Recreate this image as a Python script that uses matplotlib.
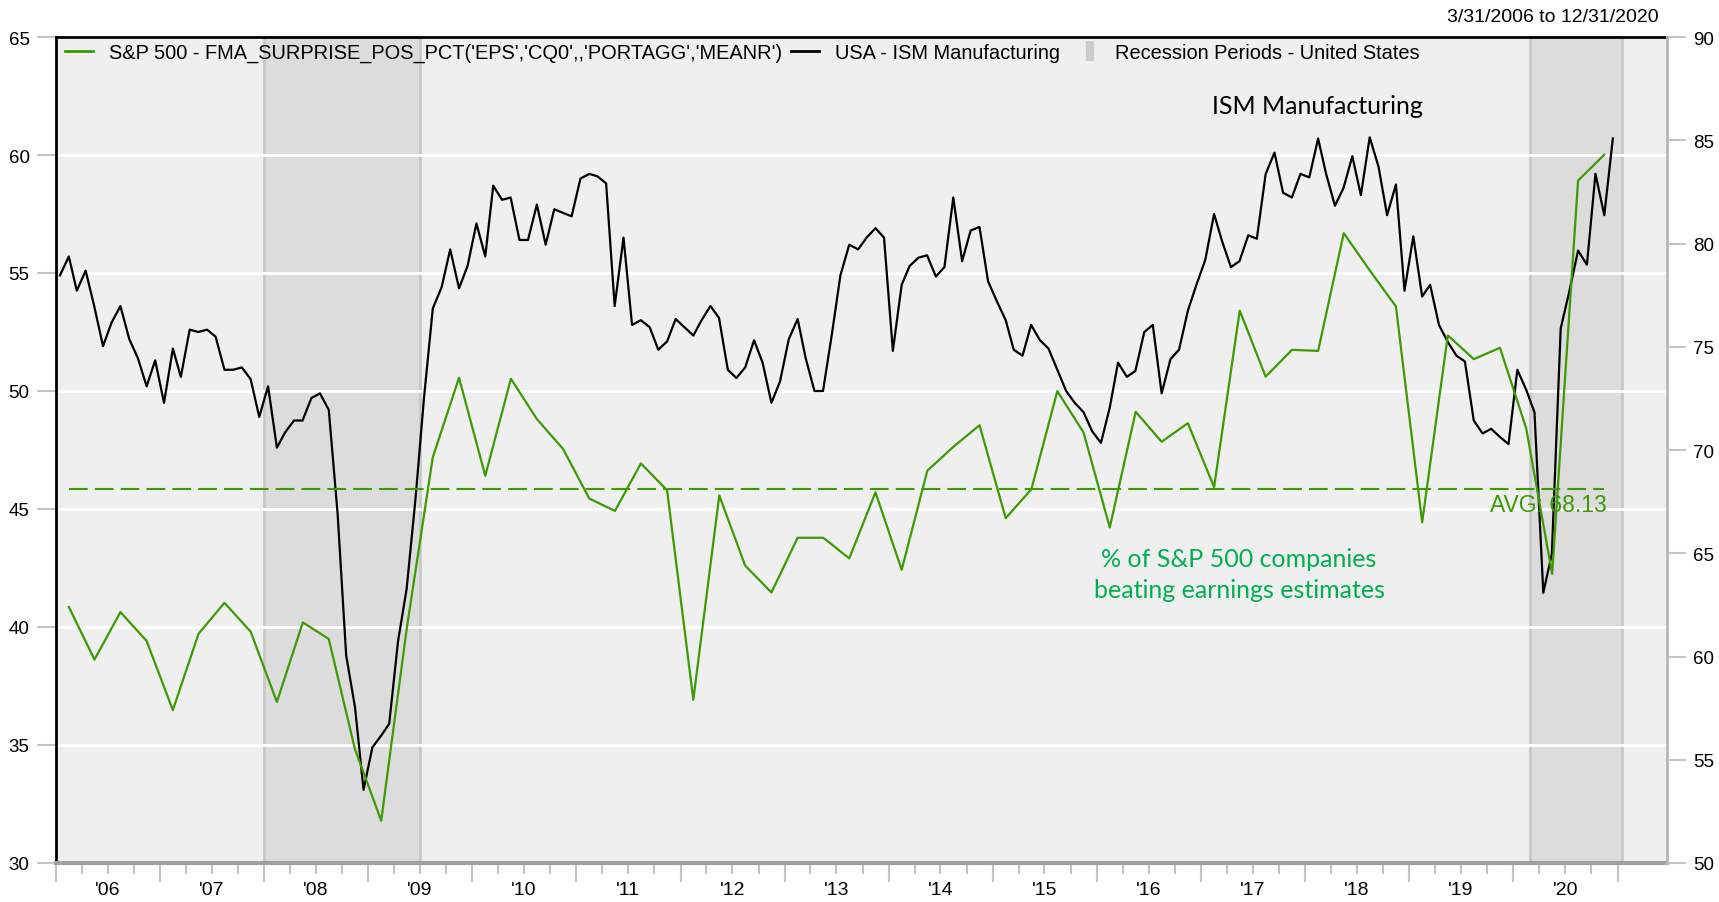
import pandas as pd
import matplotlib
matplotlib.use("Agg")
import matplotlib.pyplot as plt
import matplotlib.dates as mdates
from matplotlib.lines import Line2D
from matplotlib.ticker import FixedLocator, FuncFormatter, NullFormatter

# ISM Manufacturing, monthly (left axis)
ism_2006 = [54.9, 55.7, 54.25, 55.1, 53.6, 51.9, 52.9, 53.6, 52.2, 51.4, 50.2, 51.3]
ism_2007 = [49.5, 51.8, 50.6, 52.6, 52.5, 52.6, 52.3, 50.9, 50.9, 51.0, 50.5, 48.9]
ism_2008 = [50.2, 47.6, 48.25, 48.75, 48.75, 49.7, 49.9, 49.2, 44.8, 38.8, 36.6, 33.1]
ism_2009 = [34.9, 35.4, 35.9, 39.4, 41.6, 45.4, 49.7, 53.5, 54.4, 56.0, 54.35, 55.3]
ism_2010 = [57.1, 55.7, 58.7, 58.1, 58.2, 56.4, 56.4, 57.9, 56.2, 57.7, 57.55, 57.4]
ism_2011 = [59.0, 59.2, 59.1, 58.8, 53.6, 56.5, 52.8, 53.0, 52.7, 51.75, 52.1, 53.05]
ism_2012 = [52.7, 52.35, 53.0, 53.6, 53.1, 50.9, 50.55, 51.0, 52.15, 51.2, 49.5, 50.4]
ism_2013 = [52.2, 53.05, 51.4, 50.0, 50.0, 52.4, 54.9, 56.2, 56.0, 56.5, 56.9, 56.5]
ism_2014 = [51.7, 54.5, 55.3, 55.65, 55.75, 54.85, 55.25, 58.2, 55.5, 56.8, 56.95, 54.65]
ism_2015 = [53.8, 53.0, 51.75, 51.5, 52.8, 52.15, 51.8, 50.9, 50.0, 49.5, 49.1, 48.3]
ism_2016 = [47.8, 49.3, 51.2, 50.6, 50.85, 52.5, 52.8, 49.9, 51.35, 51.75, 53.4, 54.5]
ism_2017 = [55.55, 57.5, 56.35, 55.25, 55.5, 56.6, 56.45, 59.2, 60.1, 58.4, 58.2, 59.2]
ism_2018 = [59.05, 60.7, 59.2, 57.85, 58.6, 59.95, 58.3, 60.75, 59.5, 57.45, 58.75, 54.25]
ism_2019 = [56.55, 54.0, 54.5, 52.8, 52.1, 51.5, 51.25, 48.75, 48.2, 48.4, 48.05, 47.75]
ism_2020 = [50.9, 50.05, 49.1, 41.45, 43.1, 52.65, 54.2, 55.95, 55.35, 59.2, 57.45, 60.7]
ism = (ism_2006 + ism_2007 + ism_2008 + ism_2009 + ism_2010 + ism_2011 + ism_2012 + ism_2013
       + ism_2014 + ism_2015 + ism_2016 + ism_2017 + ism_2018 + ism_2019 + ism_2020)

# % of S&P 500 companies beating EPS estimates, quarterly (right axis)
beat_pct = [62.4, 59.85, 62.15, 60.75,
            57.4, 61.1, 62.6, 61.2,
            57.8, 61.65, 60.85, 55.5,
            52.05, 61.4, 69.65, 73.5,
            68.75, 73.45, 71.5, 70.05,
            67.65, 67.05, 69.35, 68.05,
            57.9, 67.8, 64.4, 63.1,
            65.75, 65.75, 64.75, 67.95,
            64.2, 69.0, 70.15, 71.2,
            66.7, 68.1, 72.85, 70.85,
            66.25, 71.85, 70.4, 71.3,
            68.2, 76.75, 73.55, 74.85,
            74.8, 80.5, 78.7, 76.95,
            66.5, 75.55, 74.4, 74.95,
            71.05, 64.0, 83.05, 84.3]
beat_avg = 68.13

recessions = [("2007-12-31", "2009-06-30"), ("2020-02-29", "2021-01-15")]
years = list(range(2006, 2022))

ism_dates = pd.date_range("2006-01-01", periods=len(ism), freq="MS") + pd.Timedelta(days=14)
beat_dates = pd.date_range("2006-01-01", periods=len(beat_pct), freq="QS") + pd.Timedelta(days=45)

green = "#3c9a04"
txt_green = "#00b050"
plt.rcParams["font.family"] = ["Liberation Sans", "DejaVu Sans"]

fig = plt.figure(figsize=(17.19, 9.03), dpi=100)
ax = fig.add_axes([56 / 1719, 39 / 903, 1611 / 1719, 826 / 903])
ax.set_facecolor("#efefef")
ax2 = ax.twinx()

for start, end in recessions:
    ax.axvspan(pd.Timestamp(start), pd.Timestamp(end), facecolor="#dcdcdc",
               edgecolor="#c8c8c8", lw=2, zorder=0.2)

ax.set_axisbelow(True)
ax.grid(axis="y", color="white", lw=2)
ax.plot(ism_dates, ism, color="black", lw=1.6, zorder=3)

ax2.plot(beat_dates, beat_pct, color=green, lw=1.6)
ax2.hlines(beat_avg, beat_dates[0], beat_dates[-1], colors=green, lw=1.5,
           linestyles=(0, (9, 3.4)))
ax2.annotate(f"AVG: {beat_avg:.2f}", (beat_dates[-1], beat_avg), xytext=(2, -3),
             textcoords="offset points", ha="right", va="top", color=green, fontsize=16.5)

ax.set_ylim(30, 65)
ax.set_yticks(range(30, 70, 5))
ax2.set_ylim(50, 90)
ax2.set_yticks(range(50, 95, 5))
ax.set_xlim(pd.Timestamp("2006-01-01"), pd.Timestamp("2021-06-23"))

# x axis: year ticks long, quarter ticks short, labels mid-year
year_ticks = [mdates.date2num(pd.Timestamp(f"{y}-01-01")) for y in years]
quarter_ticks = [mdates.date2num(d) for d in pd.date_range("2006-01-01", "2021-01-01", freq="QS")]
ax.xaxis.set_major_locator(FixedLocator(year_ticks))
ax.xaxis.set_minor_locator(FixedLocator(quarter_ticks))
ax.xaxis.set_major_formatter(NullFormatter())


def year_label(x, pos):
    d = mdates.num2date(x)
    return "'" + str(d.year)[2:] if d.month == 7 else ""


ax.xaxis.set_minor_formatter(FuncFormatter(year_label))
ax.tick_params(axis="x", which="major", length=14, width=1.5, color="#c4c4c4")
ax.tick_params(axis="x", which="minor", length=8, width=1.5, color="#c4c4c4",
               labelsize=14, pad=5)
ax.tick_params(axis="y", length=14, width=1.5, color="#c4c4c4", labelsize=13.5, pad=5)
ax2.tick_params(axis="y", length=14, width=1.5, color="#c4c4c4", labelsize=13.5, pad=5)

for name in ["left", "top"]:
    ax.spines[name].set_color("black")
    ax.spines[name].set_linewidth(2)
ax.spines["bottom"].set_color("#a0a0a0")
ax.spines["bottom"].set_linewidth(3)
ax.spines["right"].set_visible(False)
for name in ["left", "top", "bottom"]:
    ax2.spines[name].set_visible(False)
ax2.spines["right"].set_color("#b8b8b8")
ax2.spines["right"].set_linewidth(2)

# legend
h1 = [Line2D([], [], color=green, lw=2), Line2D([], [], color="black", lw=2)]
l1 = ["S&P 500 - FMA_SURPRISE_POS_PCT('EPS','CQ0',,'PORTAGG','MEANR')", "USA - ISM Manufacturing"]
leg1 = ax2.legend(h1, l1, ncol=2, loc="upper left", bbox_to_anchor=(0.0056, 0.993),
                  frameon=False, fontsize=14.4, handlelength=1.4, handletextpad=0.8,
                  columnspacing=0.45, borderpad=0, borderaxespad=0)
ax2.add_artist(leg1)
h2 = [Line2D([], [], ls="none", marker="|", markersize=15, mew=6, color="#cccccc")]
ax2.legend(h2, ["Recession Periods - United States"], loc="upper left",
           bbox_to_anchor=((1076 - 56) / 1611, 0.993), frameon=False, fontsize=14.4,
           handlelength=1.4, handletextpad=0.55, borderpad=0, borderaxespad=0)

fig.text(1659 / 1719, 1 - 18 / 903, "3/31/2006 to 12/31/2020", ha="right", va="center", fontsize=14)
fig.text(1317 / 1719, 1 - 107 / 903, "ISM Manufacturing", ha="center", va="center",
         fontsize=18, family="Lato")
fig.text(1239 / 1719, 1 - 575 / 903, "% of S&P 500 companies\nbeating earnings estimates",
         ha="center", va="center", fontsize=18, family="Lato", color=txt_green, linespacing=1.45)

fig.savefig("out.png", dpi=100)
